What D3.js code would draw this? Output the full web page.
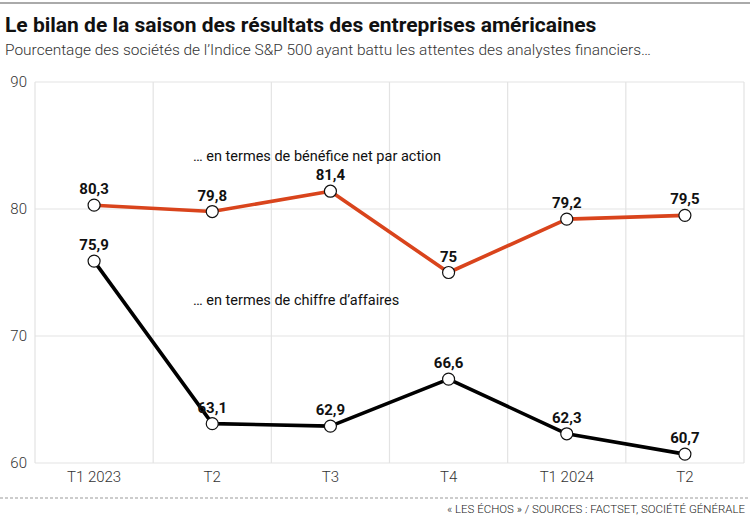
<!DOCTYPE html>
<html><head><meta charset="utf-8">
<script src="https://cdn.jsdelivr.net/npm/d3@7"></script>
<style>
body{margin:0;background:#fff;}
svg{display:block;font-family:Roboto, "Noto Sans", sans-serif;}
</style></head>
<body><svg id="c" width="750" height="516"></svg>
<script>
const categories = ["T1 2023","T2","T3","T4","T1 2024","T2"];
const bpaValues = [80.3,79.8,81.4,75,79.2,79.5];
const caValues = [75.9,63.1,62.9,66.6,62.3,60.7];
const yTicks = [60,70,80,90];

const svg = d3.select("#c");
const L=35, R=744, T=82, B=463;
const x = d3.scaleBand().domain(d3.range(categories.length)).range([L,R]);
const y = d3.scaleLinear().domain([60,90]).range([B,T]);
const fmt = v => String(v).replace(".",",");

svg.append("line").attr("x1",0).attr("x2",750).attr("y1",3).attr("y2",3).attr("stroke","#aaa").attr("stroke-width",2);
svg.append("text").attr("x",5).attr("y",32).attr("font-size",21).attr("font-weight",700).attr("fill","#111")
  .text("Le bilan de la saison des résultats des entreprises américaines");
svg.append("text").attr("x",5).attr("y",55).attr("font-size",15).attr("font-weight",300).attr("fill","#333")
  .attr("textLength",646).attr("lengthAdjust","spacingAndGlyphs")
  .text("Pourcentage des sociétés de l’Indice S&P 500 ayant battu les attentes des analystes financiers…");

// grid
const g = svg.append("g");
g.selectAll(".h").data(yTicks).join("line").attr("x1",L).attr("x2",R).attr("y1",d=>y(d)).attr("y2",d=>y(d))
  .attr("stroke","#e3e3e3").attr("stroke-width",1.2);
const bounds = d3.range(categories.length+1).map(i=> i<categories.length ? x(i) : R);
g.selectAll(".v").data(bounds).join("line").attr("x1",d=>d).attr("x2",d=>d).attr("y1",T).attr("y2",B)
  .attr("stroke","#e3e3e3").attr("stroke-width",1.2);

// axes
const ya = svg.append("g").attr("transform",`translate(${L},0)`).call(d3.axisLeft(y).tickValues(yTicks).tickSize(0).tickPadding(8));
ya.select(".domain").remove();
ya.selectAll("text").attr("font-size",15).attr("font-weight",300).attr("fill","#333").attr("font-family","Roboto");
const xa = svg.append("g").attr("transform",`translate(0,${B})`).call(d3.axisBottom(x).tickFormat(i=>categories[i]).tickSize(0).tickPadding(8));
xa.select(".domain").remove();
xa.selectAll("text").attr("font-size",15).attr("font-weight",300).attr("fill","#333").attr("font-family","Roboto");

const cx = i => x(i)+x.bandwidth()/2;
const line = d3.line().x((d,i)=>cx(i)).y(d=>y(d));

function series(vals,color){
  svg.append("path").datum(vals).attr("d",line).attr("fill","none").attr("stroke",color).attr("stroke-width",3.6).attr("stroke-linejoin","round");
  svg.selectAll(null).data(vals).join("circle").attr("cx",(d,i)=>cx(i)).attr("cy",d=>y(d)).attr("r",6)
    .attr("fill","#fff").attr("stroke","#111").attr("stroke-width",1.2);
  svg.selectAll(null).data(vals).join("text").attr("x",(d,i)=>cx(i)).attr("y",d=>y(d)-11)
    .attr("text-anchor","middle").attr("font-size",15).attr("font-weight",700).attr("fill","#111").text(fmt);
}
series(bpaValues,"#d9441c");
series(caValues,"#000");

svg.append("text").attr("x",193).attr("y",161).attr("font-size",14.5).attr("fill","#111").text("… en termes de bénéfice net par action");
svg.append("text").attr("x",193).attr("y",305).attr("font-size",14.5).attr("fill","#111").text("… en termes de chiffre d’affaires");

// footer
svg.append("line").attr("x1",0).attr("x2",750).attr("y1",498).attr("y2",498).attr("stroke","#999").attr("stroke-dasharray","3,2");
svg.append("text").attr("x",745).attr("y",513).attr("text-anchor","end").attr("font-size",11.5).attr("font-weight",300).attr("fill","#222")
  .attr("textLength",298).attr("lengthAdjust","spacingAndGlyphs")
  .text("« LES ÉCHOS » / SOURCES : FACTSET, SOCIÉTÉ GÉNÉRALE");
</script></body></html>
